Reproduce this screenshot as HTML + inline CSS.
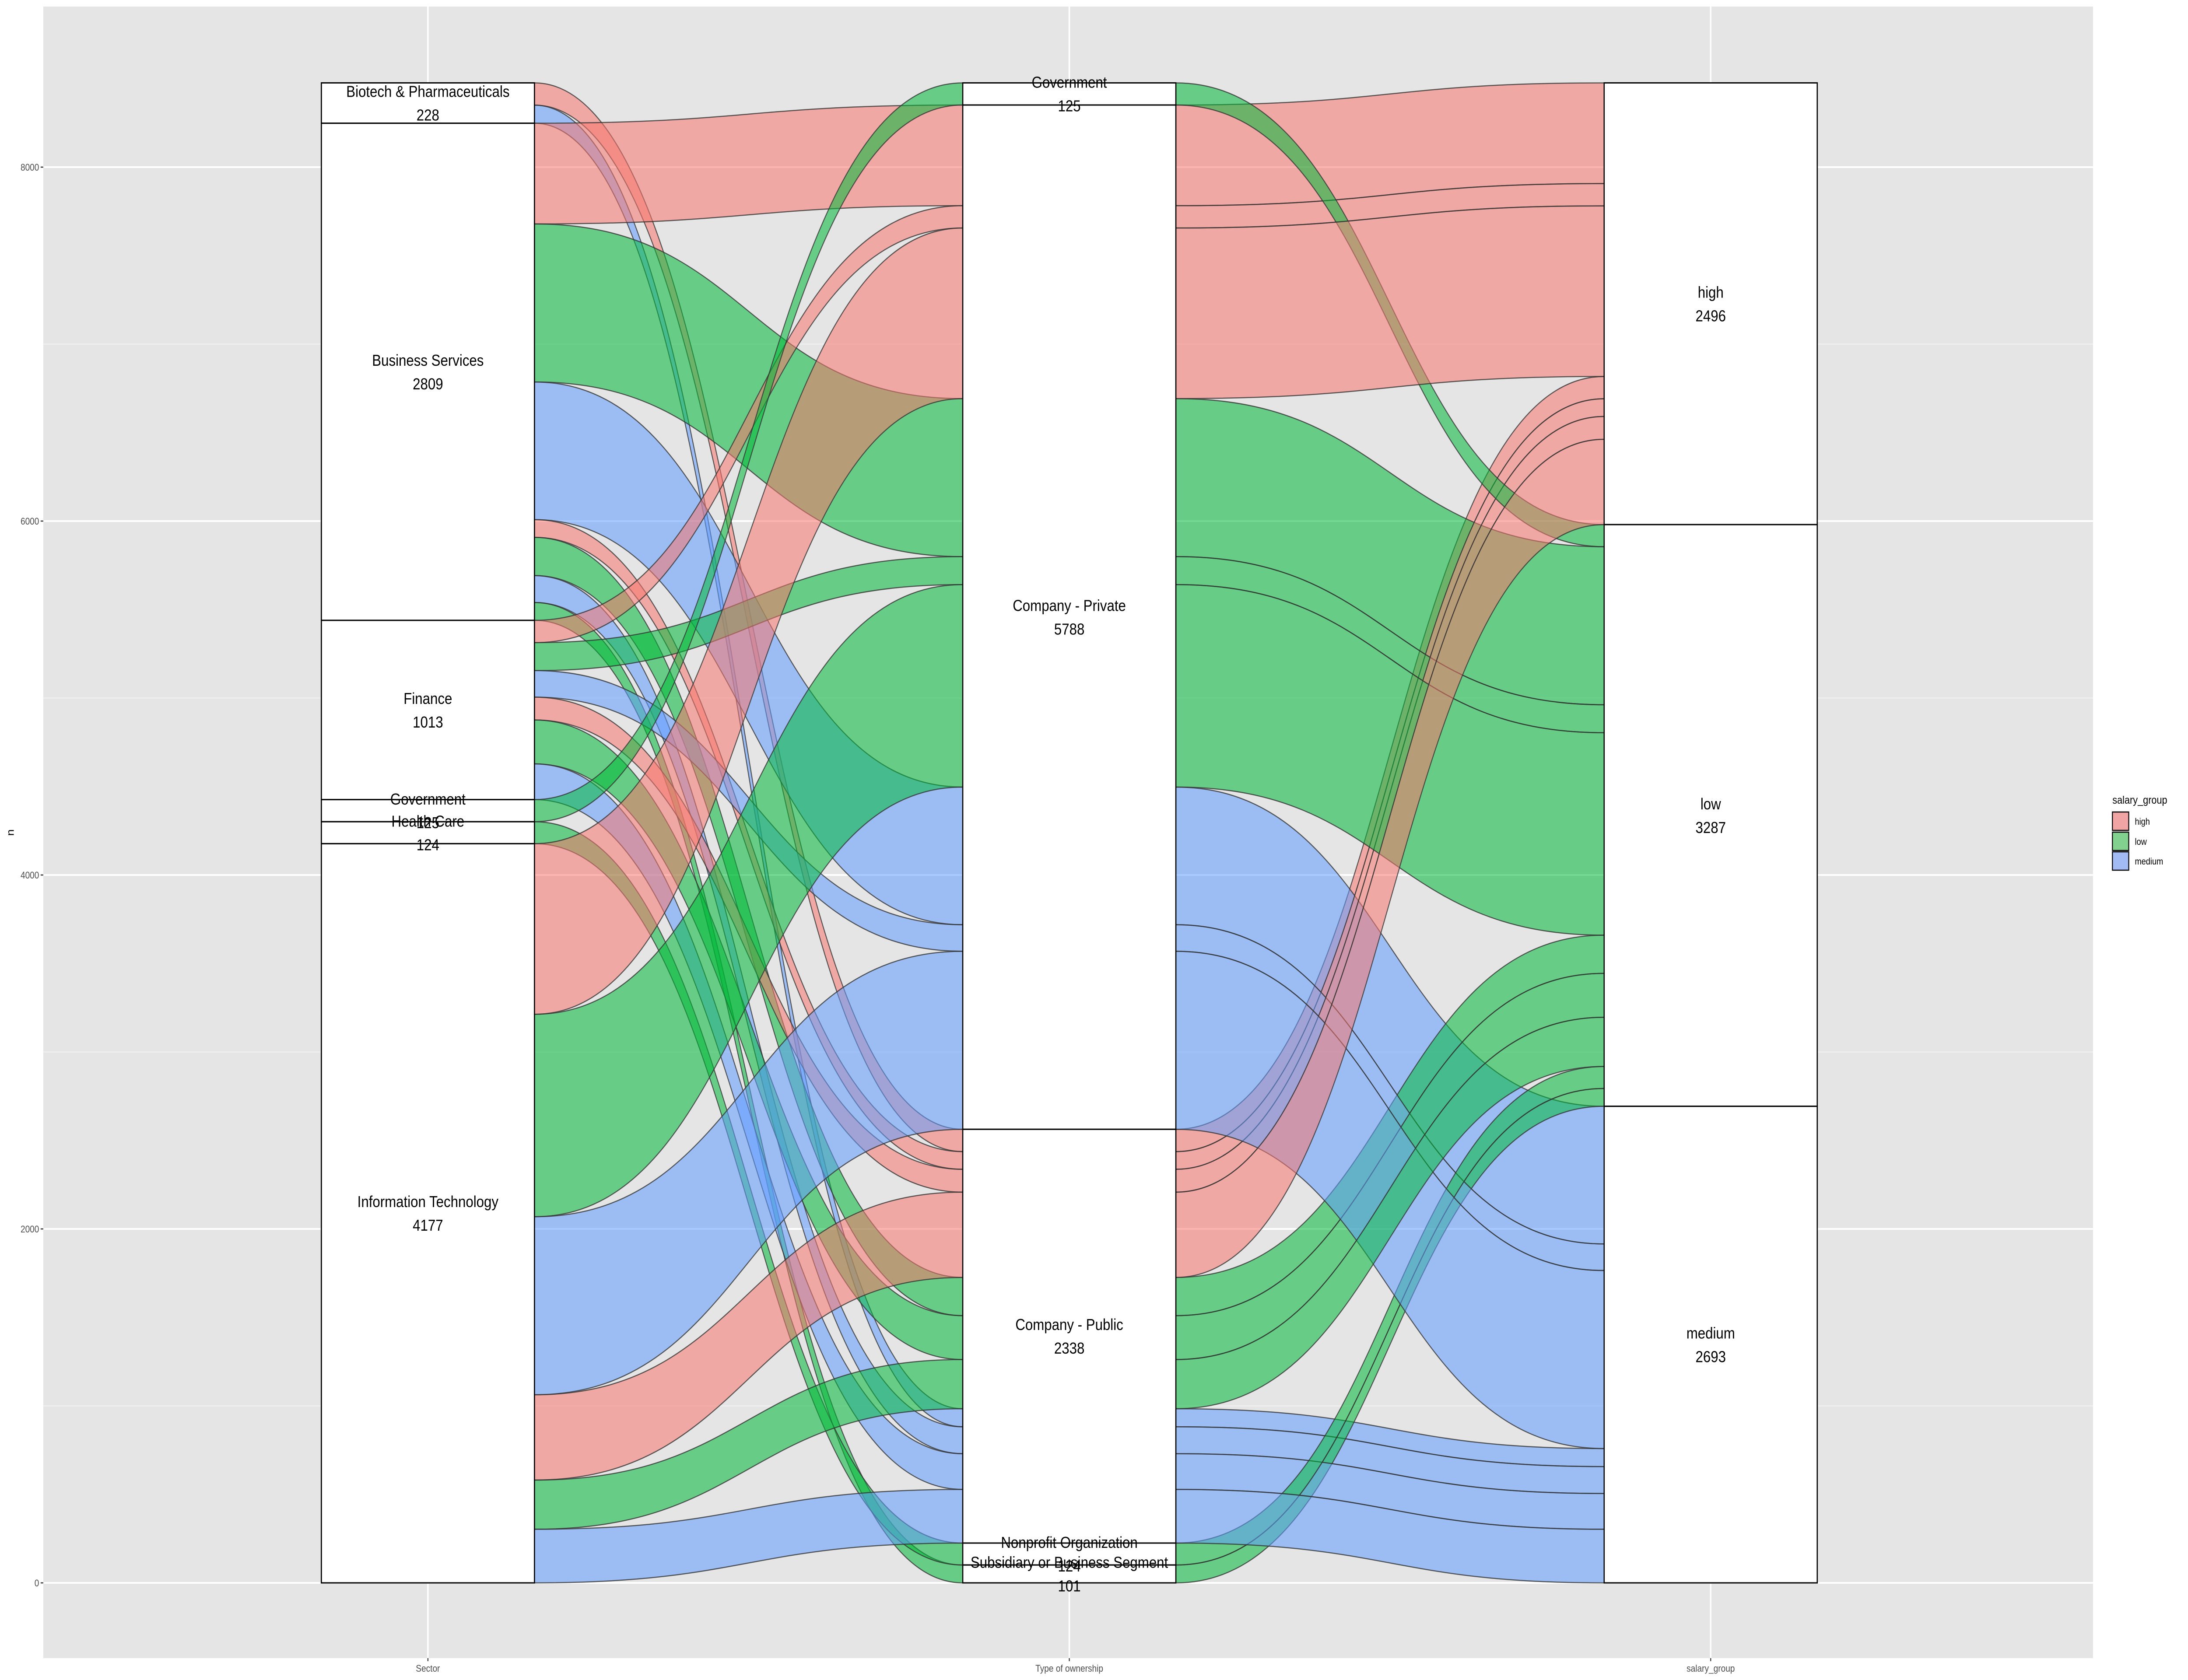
<!DOCTYPE html>
<html><head><meta charset="utf-8"><style>
html,body{margin:0;padding:0;background:#fff;width:100%;height:100%;overflow:hidden;}
svg{display:block;position:absolute;left:0;top:0;width:100vw;height:100vh;font-family:"Liberation Sans",Arial,sans-serif;}
</style></head><body>
<svg id="chart" viewBox="0 0 5760 3840" preserveAspectRatio="none" xmlns="http://www.w3.org/2000/svg">
<rect x="0" y="0" width="5760" height="3840" fill="#ffffff"/>
<g id="panel"></g>
<g id="flows"></g>
<g id="strata"></g>
<g id="labels"></g>
<g id="axes"></g>
<g id="legend">
  <text x="5561" y="1837" font-size="25" fill="#000">salary_group</text>
  <g><rect x="5561" y="1856" width="43" height="42" fill="#F0A4A3" stroke="#000" stroke-width="2.5"/><text x="5620" y="1885" font-size="21" fill="#000">high</text></g>
  <g><rect x="5561" y="1902" width="43" height="42" fill="#83D18F" stroke="#000" stroke-width="2.5"/><text x="5620" y="1931" font-size="21" fill="#000">low</text></g>
  <g><rect x="5561" y="1947" width="43" height="42" fill="#A2BBF5" stroke="#000" stroke-width="2.5"/><text x="5620" y="1976" font-size="21" fill="#000">medium</text></g>
</g>
</svg>
<script>
// ---- data ----
const axisNames = ["Sector", "Type of ownership", "salary_group"];
const sectors = ["Biotech & Pharmaceuticals", "Business Services", "Finance", "Government", "Health Care", "Information Technology"];
const ownerships = ["Government", "Company - Private", "Company - Public", "Nonprofit Organization", "Subsidiary or Business Segment"];
const salaryGroups = ["high", "low", "medium"];
// alluvium combinations: sector, ownership, salary, count
const flowSector =    ["Biotech & Pharmaceuticals","Biotech & Pharmaceuticals","Business Services","Business Services","Business Services","Business Services","Business Services","Business Services","Business Services","Finance","Finance","Finance","Finance","Finance","Finance","Government","Health Care","Information Technology","Information Technology","Information Technology","Information Technology","Information Technology","Information Technology"];
const flowOwnership = ["Company - Public","Company - Public","Company - Private","Company - Private","Company - Private","Company - Public","Company - Public","Company - Public","Subsidiary or Business Segment","Company - Private","Company - Private","Company - Private","Company - Public","Company - Public","Company - Public","Government","Nonprofit Organization","Company - Private","Company - Private","Company - Private","Company - Public","Company - Public","Company - Public"];
const flowSalary =    ["high","medium","high","low","medium","high","low","medium","low","high","low","medium","high","low","medium","low","low","high","low","medium","high","low","medium"];
const flowCount =     [126,102,569,893,778,100,216,152,101,126,158,150,129,248,202,125,124,964,1144,1006,482,278,303];
const yTicks = [0, 2000, 4000, 6000, 8000];
const yMinor = [1000, 3000, 5000, 7000];

// ---- scales ----
const NS = "http://www.w3.org/2000/svg";
const panelL = 114, panelR = 5510, panelT = 15, panelB = 3790;
const xScale = a => 1126.5 + (a) * 1688.5;   // axis index 0..2
const yScale = v => 3618 - v * 0.4045;
const halfW = 280.5;
const colors = {high:"#F8766D", low:"#00BA38", medium:"#619CFF"};

function mk(tag, attrs, parent){
  const e = document.createElementNS(NS, tag);
  for (const k in attrs) e.setAttribute(k, attrs[k]);
  parent.appendChild(e);
  return e;
}

// panel & grid
const panel = document.getElementById("panel");
mk("rect", {x:panelL, y:panelT, width:panelR-panelL, height:panelB-panelT, fill:"#E5E5E5"}, panel);
yMinor.forEach(v => {
  const l = mk("line", {x1:panelL, x2:panelR, y1:yScale(v), y2:yScale(v), stroke:"#F2F2F2", "stroke-width":2}, panel);
  
  
});
yTicks.forEach(v => {
  const l = mk("line", {x1:panelL, x2:panelR, y1:yScale(v), y2:yScale(v), stroke:"#FFFFFF", "stroke-width":4}, panel);
  
  
});
axisNames.forEach((n,i) => {
  const l = mk("line", {x1:xScale(i), x2:xScale(i), y1:panelT, y2:panelB, stroke:"#FFFFFF", "stroke-width":4}, panel);
  
  
});

// ---- lode stacking ----
const orders = [sectors, ownerships, salaryGroups];
const keys = flowCount.map((c,i) => [sectors.indexOf(flowSector[i]), ownerships.indexOf(flowOwnership[i]), salaryGroups.indexOf(flowSalary[i])]);
const priority = [[0,1,2],[1,2,0],[2,1,0]];
const total = flowCount.reduce((a,b)=>a+b,0);
const lodes = [[],[],[]];
for (let a=0; a<3; a++){
  const idx = flowCount.map((c,i)=>i);
  idx.sort((p,q) => {
    for (const d of priority[a]) { if (keys[p][d] !== keys[q][d]) return keys[p][d]-keys[q][d]; }
    return 0;
  });
  let cum = total;
  idx.forEach(i => { lodes[a][i] = [cum, cum - flowCount[i]]; cum -= flowCount[i]; });
}

// ---- flows ----
const flowsG = document.getElementById("flows");
function edge(pts){
  let d = "";
  for (let a=0; a<pts.length; a++){
    const y = pts[a];
    const xl = xScale(a)-halfW, xr = xScale(a)+halfW;
    if (a===0) d += `M${xl},${y} L${xr},${y}`;
    else {
      const px = xScale(a-1)+halfW, py = pts[a-1];
      const mx = (px + xl)/2;
      d += ` C${mx},${py} ${mx},${y} ${xl},${y} L${xr},${y}`;
    }
  }
  return d;
}
function edgeRev(pts){
  let d = "";
  for (let a=pts.length-1; a>=0; a--){
    const y = pts[a];
    const xl = xScale(a)-halfW, xr = xScale(a)+halfW;
    if (a===pts.length-1) d += ` L${xr},${y} L${xl},${y}`;
    else {
      const nx = xScale(a+1)-halfW, ny = pts[a+1];
      const mx = (nx + xr)/2;
      d += ` C${mx},${ny} ${mx},${y} ${xr},${y} L${xl},${y}`;
    }
  }
  return d + " Z";
}
flowCount.forEach((c,i) => {
  const tops = [0,1,2].map(a => yScale(lodes[a][i][0]));
  const bots = [0,1,2].map(a => yScale(lodes[a][i][1]));
  const p = mk("path", {d: edge(tops) + edgeRev(bots), fill: colors[flowSalary[i]], "fill-opacity":0.55, stroke:"#333333", "stroke-opacity":0.8, "stroke-width":2.5}, flowsG);
  
  
});

// ---- strata ----
const strataG = document.getElementById("strata");
const labelsG = document.getElementById("labels");
const flowAxisVals = [flowSector, flowOwnership, flowSalary];
orders.forEach((list, a) => {
  let cum = total;
  list.forEach(name => {
    let n = 0;
    flowCount.forEach((c,i) => { if (flowAxisVals[a][i] === name) n += c; });
    const yt = yScale(cum), yb = yScale(cum - n);
    cum -= n;
    const r = mk("rect", {x:xScale(a)-halfW, y:yt, width:2*halfW, height:yb-yt, fill:"#FFFFFF", stroke:"#000", "stroke-width":3}, strataG);
    
    
    const cy = (yt+yb)/2;
    const t1 = mk("text", {x:xScale(a), y:cy-14, "font-size":36, "text-anchor":"middle", fill:"#000"}, labelsG);
    t1.textContent = name;
    
    
    const t2 = mk("text", {x:xScale(a), y:cy+40, "font-size":36, "text-anchor":"middle", fill:"#000"}, labelsG);
    t2.textContent = String(n);
    
    
  });
});

// ---- axes ----
const axesG = document.getElementById("axes");
yTicks.forEach(v => {
  const tk = mk("line", {x1:panelL-7, x2:panelL, y1:yScale(v), y2:yScale(v), stroke:"#333", "stroke-width":2.5}, axesG);
  
  
  const t = mk("text", {x:panelL-11, y:yScale(v)+8, "font-size":22, "text-anchor":"end", fill:"#4D4D4D"}, axesG);
  t.textContent = String(v);
  
  
});
axisNames.forEach((n,i) => {
  const tk = mk("line", {x1:xScale(i), x2:xScale(i), y1:panelB, y2:panelB+7, stroke:"#333", "stroke-width":2.5}, axesG);
  
  
  const t = mk("text", {x:xScale(i), y:panelB+31, "font-size":22, "text-anchor":"middle", fill:"#4D4D4D"}, axesG);
  t.textContent = n;
  
  
});
const yt = mk("text", {x:0, y:0, "font-size":27, "text-anchor":"middle", fill:"#000", transform:"translate(36,1903) rotate(-90)"}, axesG);
yt.textContent = "n";


</script>
</body></html>
